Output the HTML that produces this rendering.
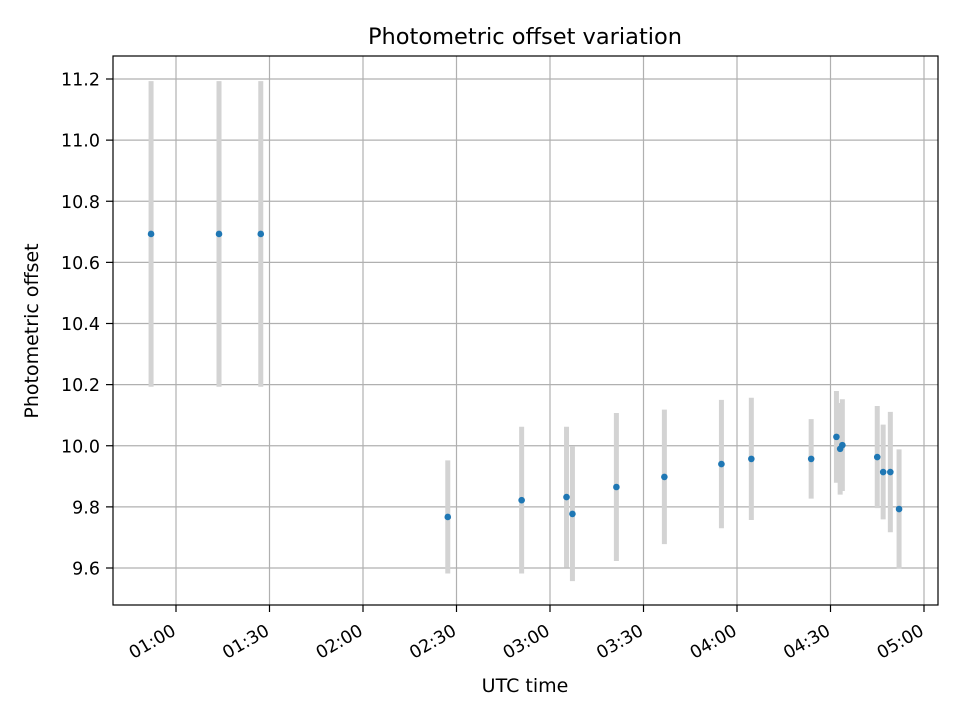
<!DOCTYPE html>
<html><head><meta charset="utf-8"><style>
html,body{margin:0;padding:0;background:#fff;}
svg{display:block;font-family:"DejaVu Sans","Liberation Sans",sans-serif;}
</style></head><body>
<svg id="chart" width="960" height="720" viewBox="0 0 960 720">
<rect width="960" height="720" fill="#fff"/>
<g id="grid"></g>
<g id="bars"></g>
<g id="pts"></g>
<rect x="113" y="56" width="825" height="549" fill="none" stroke="#000" stroke-width="1.2"/>
<g id="xt"></g>
<g id="yt"></g>
<text x="525" y="44" text-anchor="middle" font-size="22.5">Photometric offset variation</text>
<text x="525" y="692" text-anchor="middle" font-size="19">UTC time</text>
<text transform="translate(38,331) rotate(-90)" text-anchor="middle" font-size="19">Photometric offset</text>
</svg>
<script>
// times in minutes after 00:00 UTC
const times = [52,73.8,87.2,147.2,170.9,185.3,187.2,201.3,216.7,235,244.6,263.8,271.9,273.1,273.8,285,286.9,289.2,292];
const offsets = [10.693,10.693,10.693,9.767,9.822,9.832,9.777,9.865,9.898,9.94,9.957,9.957,10.029,9.99,10.002,9.963,9.914,9.914,9.793];
const errors = [0.5,0.5,0.5,0.185,0.24,0.23,0.22,0.242,0.22,0.21,0.2,0.13,0.15,0.15,0.15,0.167,0.155,0.197,0.195];
const xTickMinutes = [60,90,120,150,180,210,240,270,300];
const xTickLabels = ["01:00","01:30","02:00","02:30","03:00","03:30","04:00","04:30","05:00"];
const yTicks = [9.6,9.8,10.0,10.2,10.4,10.6,10.8,11.0,11.2];

const NS="http://www.w3.org/2000/svg";
const X=t=>176+(t-60)*(924-176)/240;
const Y=v=>79+(11.2-v)*(568-79)/1.6;
function mk(tag,attrs,parent){const e=document.createElementNS(NS,tag);for(const k in attrs)e.setAttribute(k,attrs[k]);parent.appendChild(e);return e;}
const grid=document.getElementById('grid'),bars=document.getElementById('bars'),pts=document.getElementById('pts'),xt=document.getElementById('xt'),yt=document.getElementById('yt');
xTickMinutes.forEach((m,i)=>{
  const x=X(m);
  const g=mk('line',{x1:x,x2:x,y1:56,y2:605,stroke:'#b0b0b0','stroke-width':1.2},grid);
  
  
  const tk=mk('line',{x1:x,x2:x,y1:605,y2:612,stroke:'#000','stroke-width':1.2},xt);
  
  
  const tx=mk('text',{'font-size':17.5,'text-anchor':'end',transform:`translate(${x+1},634) rotate(-30)`},xt);
  tx.textContent=xTickLabels[i];
  
  
});
yTicks.forEach(v=>{
  const y=Y(v);
  const g=mk('line',{x1:113,x2:938,y1:y,y2:y,stroke:'#b0b0b0','stroke-width':1.2},grid);
  
  
  const tk=mk('line',{x1:106,x2:113,y1:y,y2:y,stroke:'#000','stroke-width':1.2},yt);
  
  
  const tx=mk('text',{x:100,y:y+6.5,'font-size':17.5,'text-anchor':'end'},yt);
  tx.textContent=v.toFixed(1);
  
  
});
times.forEach((t,i)=>{
  const x=X(t);
  const b=mk('line',{x1:x,x2:x,y1:Y(offsets[i]+errors[i]),y2:Y(offsets[i]-errors[i]),stroke:'#d3d3d3','stroke-width':5},bars);
  
  
});
times.forEach((t,i)=>{
  const c=mk('circle',{cx:X(t),cy:Y(offsets[i]),r:3.3,fill:'#1f77b4'},pts);
  
  
});
</script>
</body></html>
